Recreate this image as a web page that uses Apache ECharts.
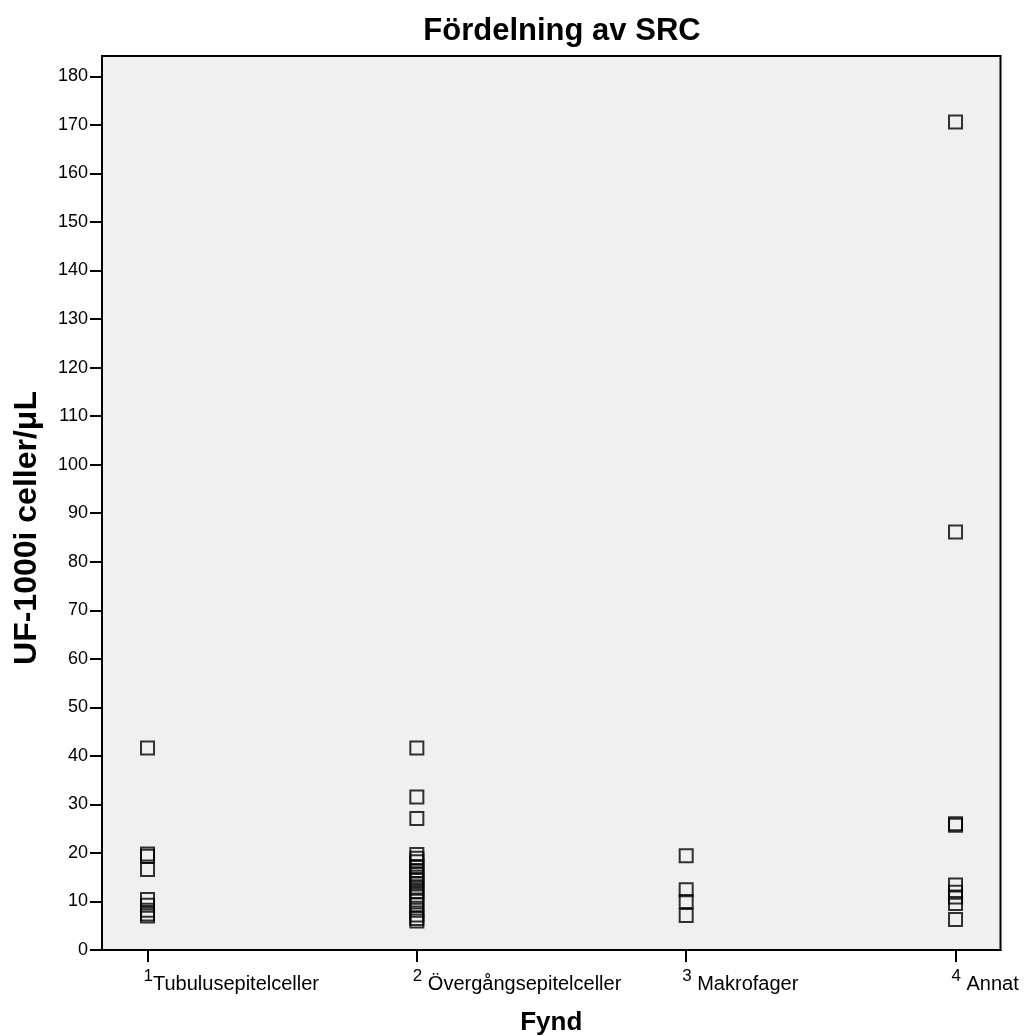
<!DOCTYPE html>
<html>
<head>
<meta charset="utf-8">
<script src="https://cdn.jsdelivr.net/npm/echarts@6/dist/echarts.min.js"></script>
<style>html,body{margin:0;padding:0;background:#fff}#c{width:1027px;height:1036px}</style>
</head>
<body>
<div id="c"></div>
<script>
const categoryNumbers = [1, 2, 3, 4];
const categoryNames = ['Tubulusepitelceller', ' Övergångsepitelceller', ' Makrofager', ' Annat'];
const yTicks = [0,10,20,30,40,50,60,70,80,90,100,110,120,130,140,150,160,170,180];
const tubulus = [41.6, 19.8, 19.3, 16.6, 10.4, 9.2, 8.2, 7.4, 7.0];
const overgang = [41.6, 31.5, 27.1, 19.7, 18.9, 18.2, 17.2, 16.4, 15.7, 15.0, 14.3, 13.6, 12.7, 12.0, 11.3, 10.3, 9.3, 8.2, 7.2, 6.5, 6.0];
const makrofager = [19.4, 12.4, 10.0, 7.1];
const annat = [170.6, 86.1, 26.0, 25.7, 13.4, 11.9, 10.9, 9.6, 6.3];
const groups = [tubulus, overgang, makrofager, annat];

const points = [];
groups.forEach((g, i) => g.forEach(v => points.push([categoryNumbers[i], v])));

const chart = echarts.init(document.getElementById('c'), null, {renderer: 'canvas'});
const font = 'Liberation Sans, Arial, sans-serif';
chart.setOption({
  animation: false,
  backgroundColor: '#ffffff',
  title: {
    text: 'Fördelning av SRC',
    left: 557,
    textAlign: 'center',
    top: 11,
    textStyle: {fontFamily: font, fontSize: 31, fontWeight: 'bold', color: '#000'}
  },
  grid: {
    left: 102, right: 26.5, top: 56, bottom: 86,
    outerBoundsMode: 'none',
    containLabel: false,
    show: true, backgroundColor: '#f0f0f0', borderColor: '#000', borderWidth: 2
  },
  xAxis: {
    type: 'value', min: 0.831, max: 4.167,
    name: 'Fynd', nameLocation: 'middle', nameGap: 60,
    nameTextStyle: {fontFamily: font, fontSize: 26, fontWeight: 'bold', color: '#000'},
    splitLine: {show: false},
    axisLine: {lineStyle: {color: '#000', width: 2}},
    axisTick: {customValues: categoryNumbers, length: 12, lineStyle: {color: '#000', width: 2}},
    axisLabel: {
      customValues: categoryNumbers,
      margin: 18,
      align: 'left',
      padding: [0, 0, 0, -4],
      formatter: v => '{n|' + v + '}{t|' + categoryNames[categoryNumbers.indexOf(v)] + '}',
      rich: {
        n: {fontFamily: font, fontSize: 17, color: '#000', verticalAlign: 'top', lineHeight: 19},
        t: {fontFamily: font, fontSize: 20, color: '#000', lineHeight: 26, verticalAlign: 'bottom'}
      }
    }
  },
  yAxis: {
    type: 'value', min: 0, max: 184.2,
    name: 'UF-1000i celler/μL', nameLocation: 'middle', nameGap: 59,
    nameTextStyle: {fontFamily: font, fontSize: 32, fontWeight: 'bold', color: '#000', padding: [0, 50, 0, 0]},
    splitLine: {show: false},
    axisLine: {lineStyle: {color: '#000', width: 2}},
    axisTick: {customValues: yTicks, length: 12, lineStyle: {color: '#000', width: 2}},
    axisLabel: {customValues: yTicks, margin: 14, fontFamily: font, fontSize: 18, color: '#000'}
  },
  series: [{
    type: 'scatter',
    symbol: 'rect',
    symbolSize: 13,
    data: points,
    itemStyle: {color: 'rgba(240,240,240,0)', borderColor: '#000', borderWidth: 2}
  }]
});
</script>
</body>
</html>
